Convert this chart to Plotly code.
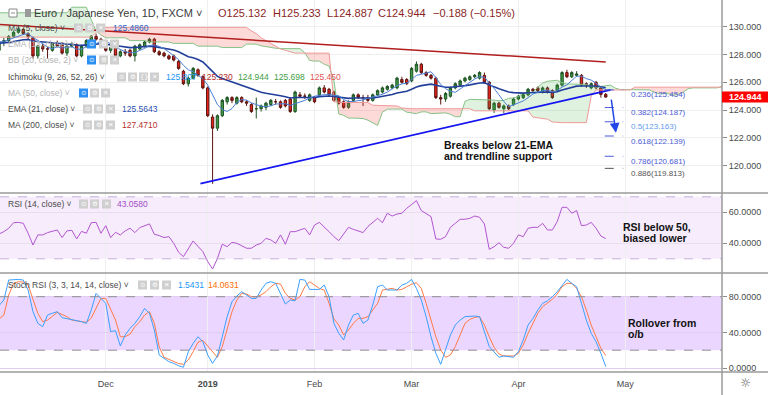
import numpy as np
import pandas as pd
import plotly.graph_objects as go

# ------------------------------------------------------------------ data
# daily bars, EUR/JPY (FXCM), bar 0 = 1 Nov 2018 ... bar 125 = 25 Apr 2019
OPEN = [128.3, 128.9, 129.0, 129.3, 129.6, 129.8, 129.5, 129.2, 127.9, 128.6,
        128.4, 128.3, 128.8, 128.7, 128.1, 128.6, 128.7, 127.9, 128.6, 129.0,
        129.3, 129.1, 128.8, 128.3, 128.5, 127.9, 128.2, 128.3, 127.9, 128.4,
        128.6, 128.9, 129.1, 128.2, 128.1, 127.9, 127.9, 127.5, 126.8, 125.9,
        126.3, 126.9, 126.4, 125.6, 123.5, 122.7, 123.6, 124.6, 124.9, 124.5,
        124.9, 124.6, 124.4, 124.1, 124.1, 124.2, 124.4, 124.6, 124.6, 124.7,
        124.8, 123.9, 125.1, 125.0, 124.7, 124.9, 125.1, 125.6, 125.5, 125.3,
        124.9, 124.6, 124.2, 124.7, 125.1, 124.9, 124.9, 124.7, 125.1, 125.3,
        125.5, 125.6, 125.6, 126.2, 126.2, 126.1, 126.8, 127.3, 126.7, 126.5,
        126.3, 124.9, 124.8, 125.0, 125.6, 125.8, 126.1, 126.2, 126.4, 126.3,
        126.5, 126.0, 124.0, 124.5, 124.1, 124.3, 124.4, 124.8, 124.9, 125.1,
        125.5, 125.6, 125.3, 125.6, 125.4, 125.4, 125.8, 126.7, 126.4, 126.5,
        126.5, 125.9, 125.6, 126.0, 125.6, 125.132]
HIGH = [129.0, 129.2, 129.4, 129.7, 130.0, 129.9, 129.6, 129.3, 128.7, 128.8,
        128.6, 128.9, 129.0, 128.9, 128.7, 128.9, 128.8, 128.7, 129.1, 129.4,
        129.5, 129.2, 128.9, 128.6, 128.6, 128.3, 128.4, 128.4, 128.7, 128.8,
        129.0, 129.2, 129.2, 128.3, 128.2, 128.0, 128.0, 127.6, 126.9, 126.4,
        127.1, 127.0, 126.5, 125.7, 123.7, 123.7, 124.8, 125.0, 125.0, 125.0,
        125.0, 124.7, 124.5, 124.9, 124.4, 124.6, 124.8, 124.8, 124.7, 124.8,
        124.9, 125.4, 125.3, 125.2, 125.2, 125.0, 125.7, 125.8, 125.6, 125.4,
        125.0, 124.7, 124.7, 125.2, 125.2, 125.1, 125.1, 125.2, 125.5, 125.7,
        125.8, 125.9, 126.4, 126.4, 126.3, 127.1, 127.5, 127.4, 126.8, 126.6,
        126.4, 125.1, 125.3, 125.7, 126.0, 126.2, 126.4, 126.5, 126.6, 126.8,
        126.7, 126.1, 124.6, 124.6, 124.4, 124.4, 124.9, 125.1, 125.2, 125.6,
        125.6, 125.7, 125.7, 125.7, 125.5, 125.9, 126.8, 126.9, 126.8, 126.8,
        126.6, 126.0, 126.0, 126.1, 125.7, 125.233]
LOW = [128.2, 128.6, 128.9, 129.2, 129.5, 129.4, 129.1, 127.7, 127.7, 128.2,
       127.7, 128.2, 128.5, 128.0, 127.9, 128.5, 127.8, 127.8, 128.5, 128.9,
       129.0, 128.6, 128.2, 128.1, 127.8, 127.8, 127.9, 127.8, 127.5, 128.3,
       128.5, 128.8, 128.1, 127.9, 127.8, 127.6, 127.5, 126.9, 125.8, 125.7,
       126.2, 126.4, 125.5, 123.5, 118.7, 122.5, 123.5, 124.4, 124.5, 124.4,
       124.5, 124.3, 123.8, 123.4, 123.9, 124.0, 124.3, 124.4, 124.1, 124.2,
       123.8, 123.8, 124.9, 124.8, 124.6, 124.5, 125.0, 125.2, 125.0, 124.6,
       124.4, 124.1, 124.1, 124.6, 124.8, 124.3, 124.6, 124.6, 125.0, 125.2,
       125.4, 125.5, 125.5, 125.9, 125.8, 126.0, 126.7, 126.6, 126.4, 126.2,
       124.8, 124.4, 124.6, 124.9, 125.5, 125.7, 126.0, 126.1, 126.3, 126.2,
       125.9, 124.0, 123.8, 124.1, 123.8, 124.0, 124.3, 124.7, 124.8, 125.0,
       125.3, 125.3, 125.2, 125.2, 124.8, 125.3, 125.7, 126.3, 126.3, 126.4,
       125.7, 125.6, 125.5, 125.5, 124.9, 124.887]
CLOSE = [128.9, 129.0, 129.3, 129.6, 129.8, 129.5, 129.3, 127.9, 128.6, 128.4,
         128.4, 128.8, 128.6, 128.1, 128.6, 128.7, 127.9, 128.6, 129.0, 129.3,
         129.1, 128.8, 128.3, 128.5, 127.9, 128.2, 128.1, 127.9, 128.6, 128.7,
         128.9, 129.1, 128.2, 128.0, 127.9, 127.7, 127.6, 127.0, 125.9, 126.3,
         127.0, 126.5, 125.6, 123.6, 122.7, 123.6, 124.7, 124.9, 124.7, 124.9,
         124.6, 124.5, 123.9, 124.1, 124.3, 124.5, 124.7, 124.6, 124.2, 124.3,
         123.9, 125.3, 125.0, 125.0, 125.1, 124.6, 125.6, 125.3, 125.1, 124.7,
         124.5, 124.2, 124.6, 125.1, 124.9, 124.9, 124.7, 125.1, 125.4, 125.6,
         125.7, 125.8, 126.3, 126.0, 125.9, 127.0, 127.3, 126.7, 126.5, 126.3,
         124.9, 124.8, 125.2, 125.6, 125.9, 126.1, 126.3, 126.4, 126.5, 126.7,
         126.0, 124.1, 124.5, 124.2, 124.3, 124.1, 124.8, 125.0, 125.1, 125.5,
         125.4, 125.4, 125.6, 125.3, 124.9, 125.8, 126.7, 126.4, 126.7, 126.6,
         125.8, 125.8, 125.9, 125.6, 125.132, 124.944]

RSI = [46.0, 47.5, 49.7, 53.3, 53.5, 52.9, 46.5, 38.9, 45.4, 45.4,
       46.9, 47.7, 48.6, 43.7, 48.0, 48.4, 42.8, 47.7, 46.5, 53.3,
       53.5, 46.5, 51.4, 43.7, 47.1, 45.4, 48.0, 49.7, 46.9, 50.1,
       51.5, 52.5, 45.8, 45.0, 43.7, 44.3, 40.0, 34.2, 31.4, 36.5,
       41.5, 38.0, 34.6, 28.2, 23.4, 30.3, 39.4, 37.8, 40.6, 40.0,
       38.5, 36.8, 36.8, 38.9, 40.0, 43.2, 42.2, 40.0, 45.4, 39.4,
       47.5, 47.5, 48.6, 49.7, 45.4, 51.8, 53.5, 50.8, 47.5, 44.3,
       41.7, 46.0, 50.3, 49.0, 48.0, 46.9, 50.8, 53.5, 56.1, 53.3,
       59.4, 57.6, 58.9, 59.4, 62.6, 65.0, 67.5, 61.1, 59.0, 57.2,
       42.8, 42.6, 44.3, 50.3, 52.9, 55.5, 55.5, 56.1, 57.6, 56.8,
       52.5, 36.1, 37.8, 40.4, 37.4, 36.8, 40.0, 45.4, 44.3, 49.7,
       50.3, 50.3, 52.9, 48.6, 48.6, 54.0, 63.2, 63.2, 59.4, 61.1,
       51.4, 51.8, 53.5, 49.7, 44.7, 43.058]
STOCH_K = [70.0, 76.3, 98.7, 99.4, 99.4, 98.7, 87.5, 63.2, 50.1, 46.4,
           59.4, 61.5, 63.2, 56.5, 55.5, 54.6, 53.0, 52.0, 50.1, 65.0,
           83.7, 78.1, 72.5, 40.8, 41.9, 24.7, 37.0, 44.5, 50.1, 57.6,
           66.9, 61.3, 42.6, 14.6, 10.8, 7.1, 5.2, 2.5, 0.8, 18.3,
           27.7, 35.1, 29.5, 14.6, 5.2, 13.5, 35.1, 57.6, 74.4, 80.7,
           85.6, 81.9, 78.1, 78.1, 87.5, 95.0, 96.8, 95.0, 83.7, 71.8,
           76.3, 75.5, 99.4, 98.7, 88.2, 88.2, 88.2, 93.1, 80.0, 50.1,
           38.9, 31.4, 48.2, 59.4, 61.3, 50.1, 53.8, 70.7, 91.2, 93.1,
           87.5, 87.5, 87.5, 93.1, 95.0, 99.4, 89.3, 76.3, 57.6, 35.1,
           16.5, 4.1, 20.2, 37.0, 48.2, 53.8, 57.6, 58.3, 58.3, 57.6,
           40.8, 24.0, 18.0, 12.0, 13.5, 12.7, 12.0, 18.3, 31.4, 48.2,
           55.7, 65.0, 72.5, 75.5, 80.0, 85.6, 93.1, 99.4, 95.0, 91.2,
           72.5, 53.8, 38.9, 29.5, 16.5, 1.5431]
STOCH_D = [55.0, 59.4, 81.9, 95.0, 96.8, 96.5, 93.1, 78.1, 61.3, 52.0,
           53.8, 58.0, 62.4, 60.0, 57.6, 53.8, 53.0, 52.0, 51.2, 56.0,
           66.9, 78.1, 78.1, 65.0, 53.8, 35.1, 35.1, 38.0, 46.4, 52.0,
           59.4, 63.2, 50.1, 23.9, 12.0, 9.7, 7.1, 5.0, 4.1, 9.0,
           18.3, 29.0, 31.0, 25.0, 18.3, 12.0, 23.9, 44.5, 63.2, 76.3,
           83.7, 83.0, 80.0, 80.0, 82.0, 85.6, 91.2, 95.0, 94.2, 83.7,
           78.0, 76.3, 80.0, 91.2, 96.8, 93.1, 89.3, 87.5, 72.5, 55.0,
           48.2, 37.0, 42.6, 50.0, 55.7, 55.7, 57.6, 65.0, 72.5, 87.5,
           88.5, 89.3, 87.5, 88.2, 91.2, 94.0, 95.7, 89.3, 72.5, 53.8,
           35.1, 20.2, 12.0, 14.6, 24.0, 37.0, 50.1, 54.6, 56.8, 57.6,
           48.2, 35.1, 23.2, 15.7, 13.5, 13.5, 13.5, 16.5, 25.8, 38.9,
           50.1, 61.3, 68.8, 73.3, 77.0, 83.0, 91.2, 95.0, 95.0, 89.3,
           80.0, 65.0, 48.2, 35.1, 22.1, 14.0631]

# MA(200) at a few bars
MA200_IDX = [0, 25, 50, 75, 95, 110, 125]
MA200_VAL = [130.16, 129.62, 129.08, 128.54, 128.09, 127.78, 127.47]
# Ichimoku leading spans for the bars whose look-back lies before the data
SPAN_A_EARLY = [131.0] * 15 + [131.4] * 4 + [130.5, 129.7, 129.4] + [129.2] * 5 + \
               [129.0] * 4 + [128.9] * 5 + [128.8] * 5 + [128.6] * 5 + [128.5] * 5
SPAN_B_EARLY = [129.25] * 20 + [129.6] + [129.95] * 31 + \
               [129.7, 129.5, 129.2, 129.0, 128.8, 128.6, 128.4, 128.3, 128.2] + \
               [128.1] * 8 + [124.6] + [124.55] * 7
EMA21_SEED = 128.8

TREND_IDX = [41.5, 126.0]
TREND_VAL = [118.72, 125.45]
ARROW_TAIL = (126.1, 124.87)
ARROW_TIP = (127.1, 122.37)
FIB_RATIO = ["0.236", "0.382", "0.5", "0.618", "0.786", "0.886"]
FIB_PRICE = [125.454, 124.187, 123.163, 122.139, 120.681, 119.813]
FIB_COLOR = ["#4a5bd4", "#4a5bd4", "#5d9cf0", "#4a5bd4", "#4a5bd4", "#555555"]
FIB_IDX = (124.8, 128.6)

TICK_IDX = [22, 43, 65, 85, 107, 129]
TICK_TEXT = ["Dec", "<b>2019</b>", "Feb", "Mar", "Apr", "May"]
PRICE_TICKS = [120, 122, 124, 126, 128, 130]
RSI_TICKS = [40, 60]
STOCH_TICKS = [0, 40, 80]
RSI_BAND = (30, 70)
STOCH_BAND = (20, 80)

LEG_MA5 = "125.4860"
LEG_EMA21 = "125.5643"
LEG_MA200 = "127.4710"
LEG_ICHI = ["125.807", "125.230", "124.944", "125.698", "125.450"]
LEG_RSI = "43.0580"
LEG_STOCH = ["1.5431", "14.0631"]

# ------------------------------------------------------------------ derived
n = len(CLOSE)
idx = np.arange(n)
c = pd.Series(CLOSE)
ma5 = c.rolling(5, min_periods=1).mean().to_numpy()
ema21 = []
prev = EMA21_SEED
for v in CLOSE:
    prev = prev + (2 / 22) * (v - prev)
    ema21.append(prev)

h = pd.Series(HIGH)
l = pd.Series(LOW)
tenkan = (h.rolling(9).max() + l.rolling(9).min()) / 2
kijun = (h.rolling(26).max() + l.rolling(26).min()) / 2
lead1 = ((tenkan + kijun) / 2).to_numpy()
lead2 = ((h.rolling(52).max() + l.rolling(52).min()) / 2).to_numpy()
m = n + 26
span_a = np.full(m, np.nan)
span_b = np.full(m, np.nan)
span_a[26:] = lead1
span_b[26:] = lead2
span_a[:len(SPAN_A_EARLY)] = SPAN_A_EARLY
span_b[:len(SPAN_B_EARLY)] = SPAN_B_EARLY
cx = np.arange(m)


def cloud_segments(x, a, b):
    out, seg = [], None
    for k in range(len(x)):
        if np.isnan(a[k]) or np.isnan(b[k]):
            if seg:
                out.append(seg)
            seg = None
            continue
        up = a[k] >= b[k]
        if seg is None:
            seg = {"up": up, "x": [x[k]], "a": [a[k]], "b": [b[k]]}
            continue
        if up != seg["up"]:
            d0 = seg["a"][-1] - seg["b"][-1]
            d1 = a[k] - b[k]
            t = d0 / (d0 - d1)
            xi = seg["x"][-1] + t * (x[k] - seg["x"][-1])
            yi = seg["a"][-1] + t * (a[k] - seg["a"][-1])
            seg["x"].append(xi); seg["a"].append(yi); seg["b"].append(yi)
            out.append(seg)
            seg = {"up": up, "x": [xi], "a": [yi], "b": [yi]}
        seg["x"].append(x[k]); seg["a"].append(a[k]); seg["b"].append(b[k])
    if seg:
        out.append(seg)
    return out


# ------------------------------------------------------------------ geometry
FONT = "Liberation Sans, Arial, sans-serif"
PR, PB = 722, 372          # right / bottom edge of the plotting area (px)


def px(x):
    return x / PR


def py(y):
    return 1 - y / PB


XR = [0.206, 148.95]
MAIN_R = [118.04, 131.92]
RSI_R = [20.84, 72.45]
STO_R = [-4.49, 106.6]

fig = go.Figure()

# Ichimoku cloud
for s in cloud_segments(cx, span_a, span_b):
    fig.add_trace(go.Scatter(
        x=s["x"] + s["x"][::-1], y=s["a"] + s["b"][::-1], fill="toself",
        fillcolor="rgba(76,175,80,0.18)" if s["up"] else "rgba(244,67,54,0.2)",
        line=dict(width=0), mode="lines", hoverinfo="skip", showlegend=False,
        xaxis="x", yaxis="y"))
fig.add_trace(go.Scatter(x=cx, y=span_a, mode="lines", line=dict(color="#86c386", width=1),
                         hoverinfo="skip", showlegend=False, xaxis="x", yaxis="y"))
fig.add_trace(go.Scatter(x=cx, y=span_b, mode="lines", line=dict(color="#f09a9a", width=1),
                         hoverinfo="skip", showlegend=False, xaxis="x", yaxis="y"))
# moving averages
fig.add_trace(go.Scatter(x=MA200_IDX, y=MA200_VAL, mode="lines", line=dict(color="#b01e1e", width=1.5),
                         hoverinfo="skip", showlegend=False, xaxis="x", yaxis="y"))
fig.add_trace(go.Scatter(x=idx, y=ema21, mode="lines", line=dict(color="#213f9a", width=1.6),
                         hoverinfo="skip", showlegend=False, xaxis="x", yaxis="y"))
fig.add_trace(go.Scatter(x=idx, y=ma5, mode="lines", line=dict(color="#4a7fd6", width=1),
                         hoverinfo="skip", showlegend=False, xaxis="x", yaxis="y"))
# candles
fig.add_trace(go.Candlestick(
    x=idx, open=OPEN, high=HIGH, low=LOW, close=CLOSE, whiskerwidth=0,
    increasing=dict(line=dict(color="#1e5224", width=1), fillcolor="#3f9a45"),
    decreasing=dict(line=dict(color="#5b1510", width=1), fillcolor="#e8221b"),
    hoverinfo="skip", showlegend=False, xaxis="x", yaxis="y"))
# trend line
fig.add_trace(go.Scatter(x=TREND_IDX, y=TREND_VAL, mode="lines", line=dict(color="#1414f0", width=1.8),
                         hoverinfo="skip", showlegend=False, xaxis="x", yaxis="y"))
# RSI
fig.add_trace(go.Scatter(x=idx, y=RSI, mode="lines", line=dict(color="#b355cf", width=1),
                         hoverinfo="skip", showlegend=False, xaxis="x2", yaxis="y2"))
# Stoch RSI
fig.add_trace(go.Scatter(x=idx, y=STOCH_D, mode="lines", line=dict(color="#ff7a45", width=1),
                         hoverinfo="skip", showlegend=False, xaxis="x3", yaxis="y3"))
fig.add_trace(go.Scatter(x=idx, y=STOCH_K, mode="lines", line=dict(color="#3aa0ff", width=1),
                         hoverinfo="skip", showlegend=False, xaxis="x3", yaxis="y3"))

shapes = []
# indicator bands
shapes.append(dict(type="rect", xref="x2 domain", yref="y2", x0=0, x1=1, y0=RSI_BAND[0], y1=RSI_BAND[1],
                   fillcolor="rgba(170,80,230,0.11)", line=dict(width=0), layer="below"))
for v in RSI_BAND:
    shapes.append(dict(type="line", xref="x2 domain", yref="y2", x0=0, x1=1, y0=v, y1=v,
                       line=dict(color="#c9aedb", width=1, dash="dash")))
shapes.append(dict(type="rect", xref="x3 domain", yref="y3", x0=0, x1=1, y0=STOCH_BAND[0], y1=STOCH_BAND[1],
                   fillcolor="rgba(153,51,255,0.2)", line=dict(width=0), layer="below"))
for v in STOCH_BAND:
    shapes.append(dict(type="line", xref="x3 domain", yref="y3", x0=0, x1=1, y0=v, y1=v,
                       line=dict(color="#8f8f8f", width=1, dash="dash")))
# fib levels
for p, col in zip(FIB_PRICE, FIB_COLOR):
    shapes.append(dict(type="line", xref="x", yref="y", x0=FIB_IDX[0], x1=FIB_IDX[1], y0=p, y1=p,
                       line=dict(color=col if col != "#5d9cf0" else "#4a5bd4", width=1, dash="dash")))
# panel frame lines
for yy in (193, 273, 372):
    shapes.append(dict(type="line", xref="paper", yref="paper", x0=0, x1=768 / PR, y0=py(yy), y1=py(yy),
                       line=dict(color="#9a9a9a", width=1.5)))
shapes.append(dict(type="line", xref="paper", yref="paper", x0=1, x1=1, y0=py(395), y1=1,
                   line=dict(color="#9a9a9a", width=1.5)))
# last price tag
shapes.append(dict(type="rect", xref="paper", yref="y", x0=1, x1=768 / PR, y0=CLOSE[-1] - 0.4, y1=CLOSE[-1] + 0.4,
                   fillcolor="#ff0000", line=dict(width=0)))
# title icons
shapes.append(dict(type="rect", xref="paper", yref="paper", x0=px(9), x1=px(17), y0=py(17), y1=py(9),
                   line=dict(color="#8a8a8a", width=1), fillcolor="white"))
shapes.append(dict(type="line", xref="paper", yref="paper", x0=px(11), x1=px(15), y0=py(13), y1=py(13),
                   line=dict(color="#8a8a8a", width=1)))
shapes.append(dict(type="rect", xref="paper", yref="paper", x0=px(25), x1=px(31), y0=py(17), y1=py(9),
                   line=dict(width=0), fillcolor="#9a9a9a"))

ann = []


def txt(x, y, s, size=8.5, color="#4a4a4a", xanchor="left", family=FONT):
    ann.append(dict(xref="paper", yref="paper", x=px(x), y=py(y), text=s, showarrow=False,
                    xanchor=xanchor, yanchor="middle", font=dict(family=family, size=size, color=color),
                    borderpad=0))


def icons(y, xs, blue_first=False):
    glyphs = ["⊙", "⚙", "✕", "✕"]
    if len(xs) == 4:
        glyphs = ["⊙", "⚙", "{}", "✕"]
    for k, x0 in enumerate(xs):
        col = "#2b8ef0" if (blue_first and k == 0) else "#cfcfcf"
        shapes.append(dict(type="rect", xref="paper", yref="paper", x0=px(x0), x1=px(x0 + 9),
                           y0=py(y + 4.5), y1=py(y - 4.5), fillcolor=col, line=dict(width=0)))
        txt(x0 + 4.5, y, glyphs[k], size=6.5, color="white", xanchor="center", family="DejaVu Sans")


# title row
txt(33, 13, "Euro / Japanese Yen, 1D, FXCM ˅", size=11, color="#3c3c3c")
chg = CLOSE[-1] - CLOSE[-2]
pct = chg / CLOSE[-2] * 100
for x0, s in [(217, f"O{OPEN[-1]:.3f}"), (272, f"H{HIGH[-1]:.3f}"), (326, f"L{LOW[-1]:.3f}"),
              (377, f"C{CLOSE[-1]:.3f}"), (432, f"−{abs(chg):.3f} (−{abs(pct):.2f}%)")]:
    txt(x0, 13, s, size=11, color="#8a1f1f")
# indicator legend rows
FADED = "#b3b3b3"
txt(7, 28, "MA (5, close) ˅"); icons(28, [74, 85, 96]); txt(112, 28, LEG_MA5, color="#2a62c4")
txt(7, 44, "EMA (13, close) ˅", color=FADED); icons(44, [87, 99, 110], blue_first=True)
txt(7, 60, "BB (20, close, 2) ˅", color=FADED); icons(60, [87, 99, 110], blue_first=True)
txt(7, 77, "Ichimoku (9, 26, 52, 26) ˅"); icons(77, [117, 128, 139, 150])
for x0, s, col in zip([165, 201, 237, 273, 309], LEG_ICHI,
                      ["#2196f3", "#b32b2b", "#43a047", "#43a047", "#e05555"]):
    txt(x0, 77, s, color=col)
txt(7, 93, "MA (50, close) ˅", color=FADED); icons(93, [79, 90, 101], blue_first=True)
txt(7, 109, "EMA (21, close) ˅"); icons(109, [83, 94, 106]); txt(121, 109, LEG_EMA21, color="#2b4fb0")
txt(7, 125, "MA (200, close) ˅"); icons(125, [83, 94, 106]); txt(121, 125, LEG_MA200, color="#b8312f")
txt(7, 204, "RSI (14, close) ˅"); icons(204, [79, 90, 102]); txt(116, 204, LEG_RSI, color="#a24cc6")
txt(7, 285, "Stoch RSI (3, 3, 14, 14, close) ˅"); icons(285, [138, 150, 162])
txt(177, 285, LEG_STOCH[0], color="#2196f3"); txt(207, 285, LEG_STOCH[1], color="#ff6d00")

# fib labels
for r, p, col in zip(FIB_RATIO, FIB_PRICE, FIB_COLOR):
    ann.append(dict(xref="paper", yref="y", x=px(629), y=p, yshift=-5, text=f"{r}({p:.3f})",
                    showarrow=False, xanchor="left", yanchor="middle",
                    font=dict(family=FONT, size=8, color=col)))
# last price text
ann.append(dict(xref="paper", yref="y", x=745 / PR, y=CLOSE[-1], text=f"<b>{CLOSE[-1]:.3f}</b>",
                showarrow=False, xanchor="center", yanchor="middle",
                font=dict(family=FONT, size=9, color="white")))
# arrow
ann.append(dict(xref="x", yref="y", axref="x", ayref="y", x=ARROW_TIP[0], y=ARROW_TIP[1],
                ax=ARROW_TAIL[0], ay=ARROW_TAIL[1], text="", showarrow=True, arrowhead=2,
                arrowsize=1.3, arrowwidth=1.5, arrowcolor="#2346e6"))
# commentary
BOLD = dict(size=10.5, color="#111111")
for x0, y0, s in [(443, 145, "Breaks below 21-EMA"), (443, 155.5, "and trendline support"),
                  (622, 227, "RSI below 50,"), (622, 238, "biased lower"),
                  (627, 323, "Rollover from"), (627, 334, "o/b")]:
    txt(x0, y0, f"<b>{s}</b>", size=BOLD["size"], color=BOLD["color"])
# settings glyph
txt(745, 383, "☼", size=12, color="#555555", xanchor="center", family="DejaVu Sans")

AX_FONT = dict(family=FONT, size=9, color="#4a4a4a")
GRID = "#efefef"
common_x = dict(range=XR, showgrid=True, gridcolor=GRID, tickvals=TICK_IDX, ticktext=TICK_TEXT,
                zeroline=False, showline=False, fixedrange=True, automargin=False)
common_y = dict(side="right", tickfont=AX_FONT, ticks="outside", ticklen=4, tickcolor="#8a8a8a",
                showgrid=True, zeroline=False, automargin=False, fixedrange=True)
fig.update_layout(
    width=768, height=395, margin=dict(l=0, r=768 - PR, t=0, b=395 - PB, pad=0),
    autosize=False,
    paper_bgcolor="white", plot_bgcolor="white", showlegend=False,
    font=dict(family=FONT),
    xaxis=dict(**common_x, anchor="y", showticklabels=False, rangeslider=dict(visible=False)),
    xaxis2=dict(**common_x, anchor="y2", showticklabels=False),
    xaxis3=dict(**common_x, anchor="y3", showticklabels=True, tickfont=AX_FONT,
                ticks="outside", ticklen=3, tickcolor="rgba(0,0,0,0)"),
    yaxis=dict(**common_y, domain=[py(193), 1], range=MAIN_R, tickvals=PRICE_TICKS,
               ticktext=[f"{v:.3f}" for v in PRICE_TICKS], gridcolor=GRID),
    yaxis2=dict(**common_y, domain=[py(273), py(193)], range=RSI_R, tickvals=RSI_TICKS,
                ticktext=[f"{v:.4f}" for v in RSI_TICKS], gridcolor="#e8dcef"),
    yaxis3=dict(**common_y, domain=[0, py(273)], range=STO_R, tickvals=STOCH_TICKS,
                ticktext=[f"{v:.4f}" for v in STOCH_TICKS], gridcolor="#e0cdef"),
    shapes=shapes, annotations=ann,
)
fig.write_html("out.html", config={"displayModeBar": False},
               post_script="document.body.style.margin='0px';document.body.style.overflow='hidden';")
